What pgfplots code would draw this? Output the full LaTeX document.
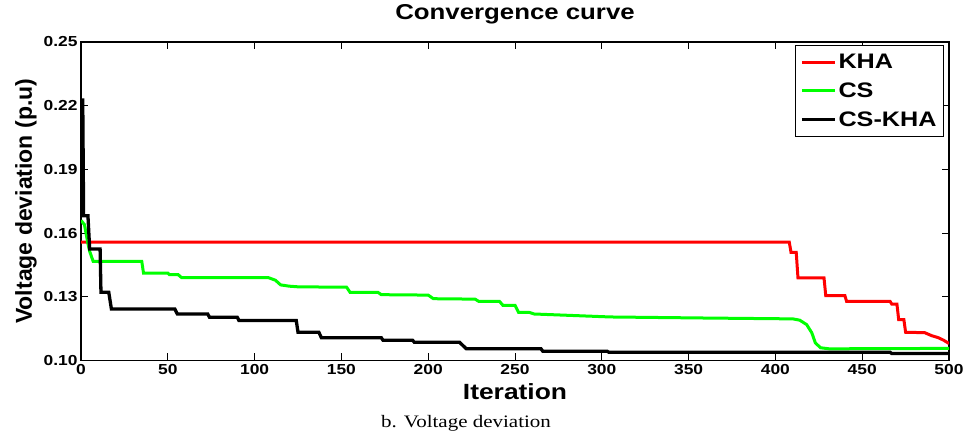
\documentclass[border=0pt]{standalone}
\usepackage{fontspec}
\setmainfont{Liberation Sans}[FakeStretch=1.2]
\newfontfamily\plainsans{Liberation Sans}
\newfontfamily\capfont{Liberation Serif}[FakeStretch=1.2]
\usepackage{pgfplots}
\pgfplotsset{compat=1.18}
\definecolor{kha}{RGB}{255,0,0}
\definecolor{cs}{RGB}{0,255,0}
\begin{document}
\begin{tikzpicture}
\useasboundingbox (0,0) rectangle (967bp,432bp);
\begin{axis}[
 at={(81bp,71.5bp)}, anchor=south west,
 scale only axis, width=868bp, height=318.5bp,
 xmin=0, xmax=500, ymin=0.10, ymax=0.25,
 xtick={0,50,...,500}, ytick={0.10,0.13,0.16,0.19,0.22,0.25},
 tick align=inside, major tick length=7bp,
 axis line style={line width=1.2bp}, tick style={line width=1bp, black},
 /pgf/number format/assume math mode=true,
 tick label style={font=\bfseries\fontsize{14.5bp}{16bp}\selectfont},
 yticklabel style={/pgf/number format/.cd, fixed, fixed zerofill, precision=2},
 title={Convergence curve},
 title style={at={(axis description cs:0.5,1.0532)}, anchor=base, font=\bfseries\fontsize{21.5bp}{25bp}\selectfont},
 xlabel={Iteration},
 xlabel style={at={(axis description cs:0.5,-0.1221)}, anchor=base, font=\bfseries\fontsize{22bp}{26bp}\selectfont},
 ylabel={Voltage deviation (p.u)},
 ylabel style={at={(axis description cs:-0.0565,0.5)}, anchor=base, font=\plainsans\bfseries\fontsize{23bp}{27bp}\selectfont},
 legend style={at={(axis description cs:1,1)}, anchor=north east, xshift=-5bp, yshift=-3bp, draw=black, line width=1bp, font=\bfseries\fontsize{21bp}{25bp}\selectfont, cells={anchor=west}, inner xsep=5bp, inner ysep=7bp, row sep=8.5bp},
 legend image code/.code={\draw[#1] (0bp,0bp) -- (33bp,0bp);},
]
\addplot[kha, line width=3bp] coordinates {
(0,0.1557) (408,0.1557) (409,0.1509) (412,0.1509) (413,0.1389) (428,0.1389)
(429,0.1306) (440,0.1306) (441,0.1279) (466,0.1279) (467,0.1266) (470,0.1266)
(471,0.1193) (474,0.1193) (475,0.1133) (486,0.1131) (490,0.1117) (494,0.1107)
(497,0.1095) (500,0.1080)};
\addlegendentry{KHA}
\addplot[cs, line width=3bp] coordinates {
(0,0.1660) (2,0.1640) (4,0.1550) (5,0.1514) (7,0.1467) (35,0.1467) (36,0.1412)
(50,0.1412) (51,0.1404) (56,0.1404) (58,0.1390) (108,0.1390) (112,0.1378)
(115,0.1356) (120,0.1350) (125,0.1347) (153,0.1345) (155,0.1321) (171,0.1321)
(173,0.1310) (200,0.1308) (203,0.1291) (227,0.1289) (229,0.1279) (241,0.1279)
(243,0.1260) (250,0.1260) (252,0.1227) (258,0.1227) (261,0.1219) (280,0.1213)
(305,0.1205) (360,0.1200) (410,0.1196) (414,0.1190) (418,0.1169) (421,0.1130)
(423,0.1083) (426,0.1060) (431,0.1055) (500,0.1057)};
\addlegendentry{CS}
\addplot[black, line width=3.3bp] coordinates {
(0,0.2227) (1,0.2227) (1.5,0.1682) (4,0.1682) (5,0.1525) (11,0.1525)
(11.5,0.1321) (16,0.1321) (17.5,0.1243) (54,0.1243) (55.5,0.1219) (73,0.1219)
(74,0.1204) (90,0.1204) (91,0.1188) (124,0.1188) (125,0.1133) (137,0.1133)
(138.5,0.1107) (173,0.1107) (174,0.1095) (191,0.1095) (192,0.1086) (218,0.1086)
(222,0.1055) (265,0.1055) (266,0.1044) (303,0.1044) (304,0.1039) (466,0.1039)
(467,0.1033) (500,0.1033)};
\addlegendentry{CS-KHA}
\end{axis}
\node[font=\capfont\fontsize{17.5bp}{20bp}\selectfont, anchor=base] at (466bp,5bp) {b. Voltage deviation};
\end{tikzpicture}
\end{document}
